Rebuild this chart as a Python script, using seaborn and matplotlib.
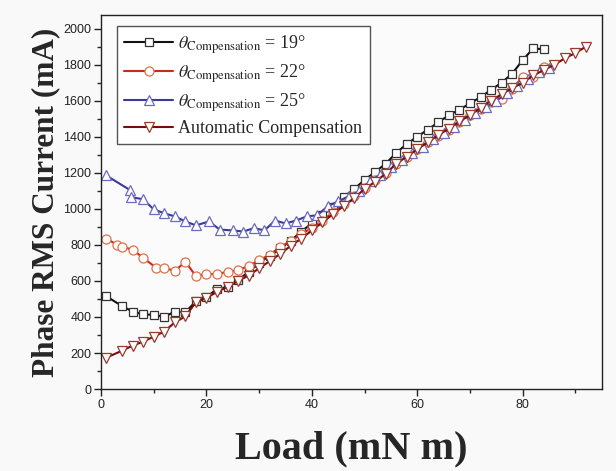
import matplotlib
matplotlib.use("Agg")
import matplotlib.pyplot as plt
import seaborn as sns
import numpy as np

# Phase RMS current vs. load for three fixed compensation angles and automatic compensation
load_19 = [1, 4, 6, 8, 10, 12, 14, 16, 18, 20, 22, 24, 26, 28, 30, 32, 34, 36, 38, 40,
           42, 44, 46, 48, 50, 52, 54, 56, 58, 60, 62, 64, 66, 68, 70, 72, 74, 76, 78, 80, 82, 84]
cur_19 = [515, 460, 430, 414, 412, 400, 430, 426, 487, 510, 555, 566, 605, 650, 700, 740,
          780, 823, 874, 920, 965, 1010, 1065, 1110, 1160, 1205, 1250, 1310, 1360, 1400,
          1440, 1480, 1520, 1550, 1585, 1620, 1660, 1700, 1750, 1826, 1890, 1885]

load_22 = [1, 3, 4, 6, 8, 10.5, 12, 14, 16, 18, 20, 22, 24, 26, 28, 30, 32, 34, 36, 38, 40,
           42, 44, 46, 48, 50, 52, 54, 56, 58, 60, 62, 64, 66, 68, 70, 72, 74, 76, 78, 80, 82, 84]
cur_22 = [835, 801, 790, 773, 728, 672, 672, 656, 706, 627, 638, 638, 650, 660, 683, 715,
          745, 790, 820, 860, 895, 935, 980, 1025, 1070, 1115, 1160, 1200, 1250, 1290, 1330,
          1370, 1405, 1440, 1480, 1520, 1555, 1590, 1608, 1664, 1731, 1730, 1787]

load_25 = [1, 5.5, 5.7, 8, 10, 12, 14, 16, 18, 20.5, 22.5, 25, 27, 29, 31, 33, 35, 37, 39,
           41, 43, 45, 47, 49, 51, 53, 55, 57, 59, 61, 63, 65, 67, 69, 71, 73, 75, 77, 79, 81,
           83, 85]
cur_25 = [1185, 1104, 1065, 1053, 997, 975, 958, 930, 908, 930, 885, 880, 874, 893, 880,
          935, 919, 935, 958, 964, 1014, 1042, 1070, 1098, 1154, 1190, 1230, 1270, 1310, 1345,
          1385, 1420, 1455, 1495, 1530, 1565, 1600, 1640, 1680, 1720, 1760, 1780]

load_auto = [1, 4, 6, 8, 10, 12, 14, 16, 18, 20, 22, 24, 26, 28, 30, 32, 34, 36, 38, 40, 42,
             44, 46, 48, 50, 52, 54, 56, 58, 60, 62, 64, 66, 68, 70, 72, 74, 76, 78, 80, 82,
             84, 86, 88, 90, 92]
cur_auto = [174, 213, 241, 263, 291, 319, 370, 403, 482, 505, 540, 566, 600, 630, 670, 710,
            750, 795, 835, 880, 925, 970, 1015, 1060, 1110, 1150, 1195, 1250, 1290, 1330,
            1370, 1410, 1445, 1485, 1520, 1560, 1600, 1636, 1670, 1700, 1740, 1770, 1800,
            1835, 1865, 1900]

labels = [r"$\theta_{\mathrm{Compensation}}$ = 19°",
          r"$\theta_{\mathrm{Compensation}}$ = 22°",
          r"$\theta_{\mathrm{Compensation}}$ = 25°",
          "Automatic Compensation"]

sns.set_theme(style="white")
plt.rcParams["font.family"] = ["Liberation Sans", "DejaVu Sans"]
plt.rcParams["mathtext.fontset"] = "stix"

fig = plt.figure(figsize=(6.16, 4.71), dpi=100, facecolor="#f9f9f9")
ax = fig.add_axes([0.164, 0.174, 0.813, 0.794])
ax.set_facecolor("#fbfbfb")

series = [
    (load_19, cur_19, "#111111", "#333333", "s", 6),
    (load_22, cur_22, "#c82a1e", "#e0704a", "o", 6.5),
    (load_25, cur_25, "#3a3a9a", "#6a6ac0", "^", 7),
    (load_auto, cur_auto, "#7a0c0c", "#9a3a2a", "v", 7),
]

for (xs, ys, lc, mc, mk, ms), lab in zip(series, labels):
    sns.lineplot(x=xs, y=ys, ax=ax, sort=False, color=lc, linewidth=1.5,
                 marker=mk, markersize=ms, markerfacecolor="white",
                 markeredgecolor=mc, markeredgewidth=0.9, label=lab)

ax.set_xlim(0, 95)
ax.set_ylim(0, 2075)
ax.set_xticks([0, 20, 40, 60, 80])
ax.set_xticks(np.arange(0, 95, 10), minor=True)
ax.set_yticks(np.arange(0, 2001, 200))
ax.set_yticks(np.arange(0, 2001, 100), minor=True)
ax.tick_params(axis="both", which="major", direction="out", length=5, width=1,
               labelsize=9, colors="#222222", bottom=True, left=True, pad=2)
ax.tick_params(axis="both", which="minor", direction="out", length=3, width=1,
               bottom=True, left=True)
for sp in ax.spines.values():
    sp.set_color("#222222")
    sp.set_linewidth(1.0)

serif = ["Liberation Serif", "DejaVu Serif"]
ax.set_xlabel("Load (mN m)", fontsize=29, fontweight="bold", family=serif, labelpad=14)
ax.set_ylabel("Phase RMS Current (mA)", fontsize=22.5, fontweight="bold", family=serif,
              labelpad=2)

leg = ax.legend(loc="upper left", bbox_to_anchor=(0.032, 0.97), frameon=True,
                fancybox=False, edgecolor="#555555", facecolor="white", framealpha=1,
                prop={"family": serif, "size": 13}, handlelength=2.7, borderpad=0.4,
                labelspacing=0.35, handletextpad=0.3, borderaxespad=0)
leg.get_frame().set_linewidth(1.0)

fig.savefig("out.png", dpi=100, facecolor=fig.get_facecolor())
